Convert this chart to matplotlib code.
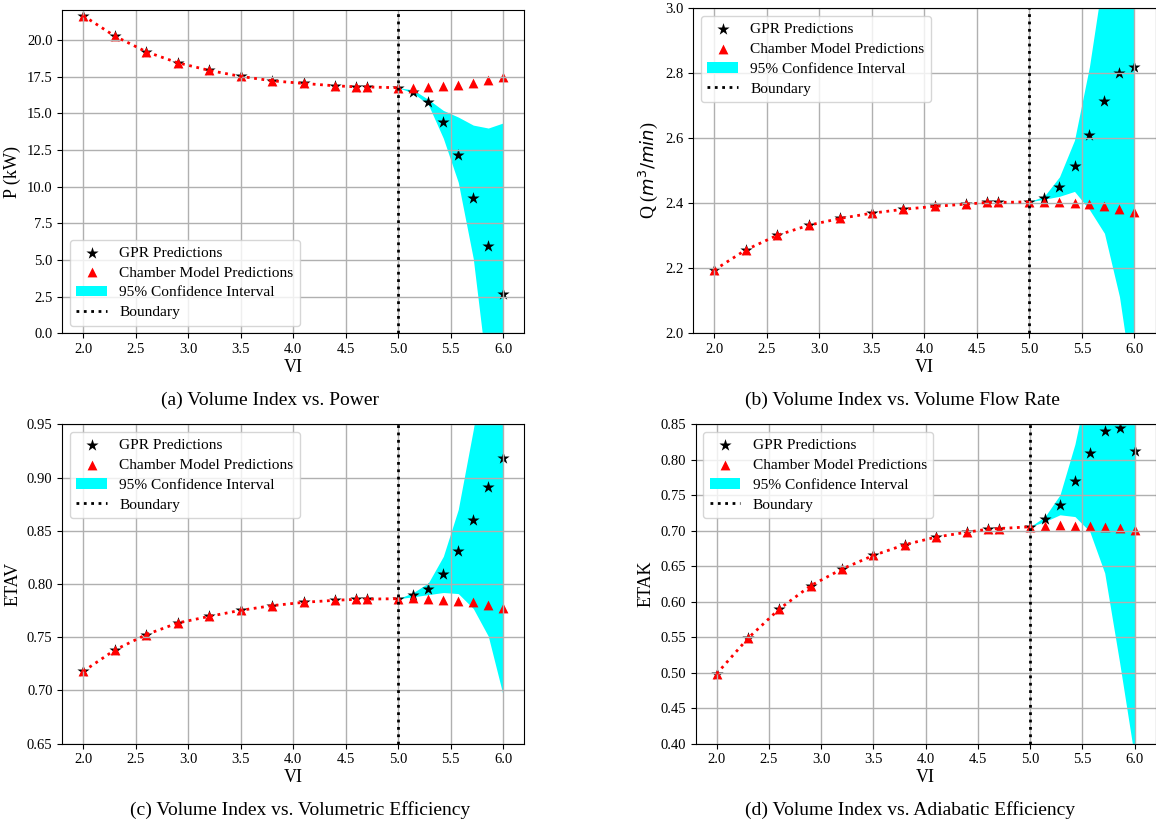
import numpy as np
import matplotlib
matplotlib.use("Agg")
import matplotlib.pyplot as plt
from matplotlib.ticker import MultipleLocator

plt.rcParams['font.family'] = 'serif'
plt.rcParams['font.serif'] = ['Liberation Serif', 'DejaVu Serif']
plt.rcParams['mathtext.fontset'] = 'dejavusans'

# --- volume index: training grid and extrapolation grid
vi_train = [2.0, 2.3, 2.6, 2.9, 3.2, 3.5, 3.8, 4.1, 4.4, 4.6, 4.7, 5.0]
vi_ext = [5.0, 5.143, 5.286, 5.429, 5.571, 5.714, 5.857, 6.0]

# --- power P (kW)
p_cm_train = [21.66, 20.27, 19.2, 18.45, 17.93, 17.52, 17.22, 17.04, 16.88, 16.81, 16.80, 16.75]
p_cm_ext = [16.75, 16.75, 16.77, 16.85, 16.95, 17.08, 17.27, 17.47]
p_gpr_ext = [16.75, 16.49, 15.79, 14.38, 12.17, 9.24, 5.94, 2.71]
p_hi = [16.75, 16.60, 15.95, 15.2, 14.75, 14.2, 14.0, 14.35]
p_lo = [16.75, 16.38, 15.6, 13.3, 10.3, 5.1, -3.4, -9.0]

# --- volume flow rate Q (m3/min)
q_cm_train = [2.194, 2.256, 2.301, 2.332, 2.353, 2.369, 2.381, 2.390, 2.397, 2.402, 2.402, 2.404]
q_cm_ext = [2.404, 2.403, 2.403, 2.400, 2.396, 2.390, 2.383, 2.373]
q_gpr_ext = [2.404, 2.417, 2.451, 2.515, 2.611, 2.716, 2.800, 2.818]
q_hi = [2.404, 2.422, 2.481, 2.594, 2.82, 3.125, 3.49, 3.8]
q_lo = [2.404, 2.412, 2.421, 2.436, 2.38, 2.307, 2.112, 1.8]

# --- volumetric efficiency
v_cm_train = [0.718, 0.738, 0.7525, 0.7634, 0.7696, 0.7753, 0.7797, 0.7828, 0.7847, 0.7856, 0.7858, 0.7862]
v_cm_ext = [0.7862, 0.7869, 0.786, 0.7853, 0.7843, 0.7828, 0.7806, 0.7772]
v_gpr_ext = [0.7862, 0.7897, 0.7956, 0.8094, 0.8306, 0.8597, 0.8915, 0.9187]
v_hi = [0.7862, 0.792, 0.801, 0.826, 0.870, 0.945, 1.03, 1.14]
v_lo = [0.7862, 0.788, 0.790, 0.792, 0.791, 0.777, 0.751, 0.695]

# --- adiabatic efficiency
k_cm_train = [0.4984, 0.5485, 0.5898, 0.6226, 0.6461, 0.6652, 0.6803, 0.6911, 0.6981, 0.7023, 0.7031, 0.7056]
k_cm_ext = [0.7056, 0.707, 0.7075, 0.707, 0.7065, 0.7051, 0.7037, 0.7014]
k_gpr_ext = [0.7056, 0.7164, 0.7365, 0.7703, 0.8097, 0.8402, 0.8452, 0.8125]
k_hi = [0.7056, 0.720, 0.7506, 0.822, 0.92, 1.04, 1.176, 1.24]
k_lo = [0.7056, 0.713, 0.7225, 0.720, 0.699, 0.6405, 0.514, 0.38]

captions = ["(a) Volume Index vs. Power",
            "(b) Volume Index vs. Volume Flow Rate",
            "(c) Volume Index vs. Volumetric Efficiency",
            "(d) Volume Index vs. Adiabatic Efficiency"]


def panel(ax, cm_train, cm_ext, gpr_ext, lo, hi, ylabel, ylim, ystep, loc):
    ax.fill_between(vi_ext, lo, hi, color="cyan", lw=0,
                    label="95% Confidence Interval")
    # GPR passes through the training points, so stars sit under triangles
    ax.scatter(vi_train + vi_ext[1:], cm_train + gpr_ext[1:], marker="*",
               s=85, color="black", lw=0, label="GPR Predictions")
    ax.scatter(vi_train + vi_ext[1:], cm_train + cm_ext[1:], marker="^",
               s=50, color="red", lw=0, label="Chamber Model Predictions")
    ax.plot(vi_train, cm_train, ls=":", lw=2, color="red")
    ax.axvline(5.0, ls=":", lw=2, color="black", label="Boundary")
    ax.set_xlim(1.8, 6.2)
    ax.set_ylim(*ylim)
    ax.xaxis.set_major_locator(MultipleLocator(0.5))
    ax.yaxis.set_major_locator(MultipleLocator(ystep))
    ax.grid(True, color="#b0b0b0", lw=1)
    ax.tick_params(labelsize=10.5)
    ax.set_xlabel("VI", fontsize=13, labelpad=2)
    ax.set_ylabel(ylabel, fontsize=13)
    h, l = ax.get_legend_handles_labels()
    order = [l.index(s) for s in ["GPR Predictions", "Chamber Model Predictions",
                                  "95% Confidence Interval", "Boundary"]]
    ax.legend([h[i] for i in order], [l[i] for i in order], loc=loc,
              fontsize=11.1, labelspacing=0.4)


fig = plt.figure(figsize=(11.56, 8.23), dpi=100)
W, H = 1156.0, 823.0
# axes boxes in pixels: left, top, right, bottom
boxes = [(62.3, 10.3, 524.3, 333.3), (693.3, 8.3, 1155.5, 333.0),
         (62.3, 424.3, 524.3, 743.7), (695.7, 424.3, 1155.5, 743.7)]
axes = [fig.add_axes([l / W, 1 - b / H, (r - l) / W, (b - t) / H])
        for l, t, r, b in boxes]

panel(axes[0], p_cm_train, p_cm_ext, p_gpr_ext, p_lo, p_hi,
      "P (kW)", (0, 22.03), 2.5, "lower left")
panel(axes[1], q_cm_train, q_cm_ext, q_gpr_ext, q_lo, q_hi,
      "Q ($m^3/min$)", (2.0, 3.0), 0.2, "upper left")
panel(axes[2], v_cm_train, v_cm_ext, v_gpr_ext, v_lo, v_hi,
      "ETAV", (0.65, 0.95), 0.05, "upper left")
panel(axes[3], k_cm_train, k_cm_ext, k_gpr_ext, k_lo, k_hi,
      "ETAK", (0.40, 0.85), 0.05, "upper left")

# --- sub-figure captions
for (x, y), cap in zip([(270, 400), (902, 400), (300, 810), (910, 810)], captions):
    fig.text(x / W, 1 - y / H, cap, ha="center", va="center", fontsize=14)

fig.savefig("out.png", dpi=100)
